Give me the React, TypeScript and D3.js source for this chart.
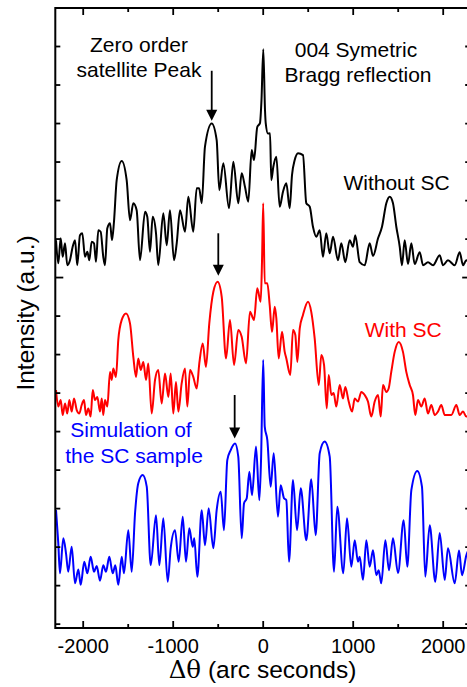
import React from 'react';
import * as d3 from 'd3';

// ---------- data (x: arc seconds, y: intensity in arbitrary offset units) ----------
const X_MAJOR_TICKS = [-2000, -1000, 0, 1000, 2000];
const X_MINOR_TICKS = [-1500, -500, 500, 1500];
const X_TICK_LABELS = ['-2000', '-1000', '0', '1000', '2000'];
const Y_TICKS = d3.range(0, 17);
const Y_MAJOR_TICK = 9;

const blackTrace: [number, number][] = [
  [-2302, 9.97], [-2277, 9.37], [-2250, 10.02], [-2228, 9.54], [-2202, 9.89], [-2177, 9.32], [-2147, 9.45], [-2117, 9.8], [-2091, 9.97], [-2066, 9.32],
  [-2036, 10.1], [-2010, 10.15], [-1980, 9.54], [-1954, 9.67], [-1932, 9.45], [-1906, 9.93], [-1880, 9.89], [-1858, 9.41], [-1832, 10.23], [-1806, 10.19],
  [-1777, 9.54], [-1758, 9.32], [-1732, 10.28], [-1702, 10.41], [-1680, 9.97], [-1658, 10.45], [-1628, 11.53], [-1572, 12.03], [-1517, 11.53], [-1480, 10.49],
  [-1443, 10.93], [-1406, 10.75], [-1369, 9.45], [-1313, 10.71], [-1288, 10.58], [-1258, 9.67], [-1228, 10.58], [-1191, 10.15], [-1166, 9.32], [-1110, 10.67],
  [-1072, 9.84], [-1036, 10.75], [-991, 9.45], [-961, 9.89], [-924, 10.75], [-869, 10.19], [-832, 11.1], [-777, 10.19], [-739, 11.32], [-712, 11.32],
  [-683, 10.93], [-647, 12.4], [-572, 13.0], [-517, 12.57], [-488, 11.27], [-443, 11.97], [-380, 10.8], [-332, 12.01], [-277, 10.93], [-239, 11.71],
  [-202, 11.35], [-166, 10.97], [-128, 12.31], [-102, 12.05], [-66, 12.91], [-36, 13.01], [-19, 13.61], [1, 14.93], [20, 13.35], [28, 13.01],
  [53, 12.74], [76, 12.75], [90, 11.53], [112, 11.87], [146, 12.14], [183, 10.84], [220, 11.23], [257, 11.45], [294, 10.8], [320, 11.66],
  [350, 12.05], [387, 12.23], [442, 12.18], [479, 10.93], [517, 10.84], [553, 10.32], [590, 10.06], [628, 10.23], [664, 9.54], [701, 10.15],
  [739, 9.63], [776, 10.06], [831, 9.45], [868, 9.89], [912, 9.4], [961, 9.97], [998, 9.8], [1023, 10.1], [1072, 9.4], [1128, 9.32],
  [1183, 9.89], [1220, 9.56], [1276, 10.02], [1320, 10.32], [1368, 10.93], [1406, 11.1], [1442, 10.93], [1479, 10.32], [1517, 9.8], [1542, 9.32],
  [1572, 9.97], [1609, 9.35], [1646, 9.89], [1683, 9.35], [1739, 9.66], [1776, 9.32], [1831, 9.4], [1887, 9.32], [1961, 9.58], [1998, 9.32],
  [2053, 9.45], [2128, 9.32], [2183, 9.66], [2220, 9.32], [2257, 9.45], [2300, 9.32],
];

const redTrace: [number, number][] = [
  [-2302, 6.08], [-2277, 5.65], [-2250, 5.82], [-2228, 5.43], [-2202, 5.73], [-2177, 5.47], [-2154, 5.82], [-2128, 5.52], [-2102, 5.86], [-2072, 5.56],
  [-2043, 5.47], [-2017, 5.69], [-1991, 5.82], [-1969, 5.43], [-1943, 5.6], [-1917, 5.39], [-1894, 6.08], [-1869, 5.82], [-1843, 5.9], [-1813, 5.52],
  [-1794, 5.86], [-1777, 5.43], [-1758, 5.82], [-1732, 5.65], [-1702, 6.55], [-1683, 6.34], [-1666, 6.64], [-1636, 6.42], [-1610, 7.38], [-1572, 7.9],
  [-1524, 8.07], [-1480, 7.81], [-1443, 6.94], [-1413, 6.42], [-1388, 6.9], [-1361, 6.6], [-1332, 6.81], [-1302, 6.34], [-1277, 6.77], [-1239, 5.47],
  [-1202, 6.34], [-1166, 6.6], [-1128, 5.73], [-1091, 6.51], [-1054, 5.9], [-1028, 6.51], [-999, 5.47], [-969, 6.29], [-943, 5.52], [-906, 6.25],
  [-869, 6.64], [-843, 5.65], [-813, 6.6], [-777, 6.42], [-739, 6.12], [-710, 6.77], [-672, 7.29], [-636, 6.68], [-599, 7.81], [-554, 8.63],
  [-506, 8.89], [-461, 8.5], [-413, 6.9], [-369, 7.9], [-324, 6.73], [-277, 7.64], [-239, 7.46], [-191, 6.77], [-147, 8.11], [-102, 7.9],
  [-66, 8.72], [-28, 8.37], [-13, 9.45], [0, 10.93], [17, 8.85], [46, 8.85], [72, 8.29], [98, 7.59], [128, 8.24], [146, 7.94],
  [172, 6.9], [209, 7.59], [239, 7.07], [257, 6.9], [301, 6.47], [331, 7.64], [357, 7.51], [379, 6.81], [406, 7.68], [442, 8.03],
  [498, 8.37], [534, 8.11], [572, 7.42], [617, 6.21], [646, 6.99], [676, 6.73], [706, 5.6], [728, 6.47], [757, 5.95], [783, 6.0],
  [812, 5.65], [850, 6.21], [887, 5.86], [912, 6.16], [950, 5.78], [987, 5.52], [1017, 5.86], [1053, 5.78], [1090, 6.03], [1128, 5.95],
  [1164, 5.78], [1201, 5.39], [1239, 5.78], [1276, 5.95], [1306, 5.39], [1331, 6.21], [1368, 6.03], [1394, 6.12], [1423, 6.55], [1461, 7.07],
  [1506, 7.33], [1553, 7.07], [1590, 6.55], [1628, 6.21], [1664, 5.95], [1690, 5.43], [1720, 5.82], [1757, 5.65], [1794, 5.86], [1831, 5.47],
  [1868, 5.69], [1906, 5.43], [1942, 5.52], [1979, 5.69], [2017, 5.43], [2090, 5.43], [2146, 5.69], [2183, 5.43], [2220, 5.52], [2257, 5.39],
  [2300, 5.39],
];

const blueTrace: [number, number][] = [
  [-2302, 2.96], [-2277, 2.11], [-2258, 1.32], [-2221, 2.23], [-2191, 1.84], [-2166, 1.36], [-2128, 2.01], [-2091, 1.06], [-2054, 1.42], [-2028, 1.02],
  [-1988, 1.62], [-1954, 1.32], [-1917, 1.75], [-1880, 1.36], [-1850, 1.51], [-1813, 1.13], [-1777, 1.53], [-1747, 1.36], [-1710, 1.75], [-1672, 1.32],
  [-1643, 1.53], [-1610, 1.02], [-1572, 1.75], [-1547, 1.32], [-1499, 2.44], [-1461, 1.36], [-1424, 2.88], [-1388, 3.66], [-1339, 3.87], [-1294, 3.57],
  [-1250, 1.53], [-1191, 2.83], [-1154, 1.53], [-1110, 2.75], [-1061, 1.1], [-1028, 1.97], [-980, 2.44], [-939, 1.62], [-894, 2.79], [-858, 1.62],
  [-821, 2.49], [-783, 2.01], [-766, 2.23], [-732, 1.23], [-683, 2.96], [-647, 2.05], [-606, 3.01], [-554, 1.97], [-517, 2.96], [-472, 3.44],
  [-436, 2.44], [-399, 4.26], [-361, 4.52], [-313, 4.69], [-277, 4.35], [-239, 2.23], [-213, 3.14], [-183, 3.27], [-154, 3.96], [-124, 3.35],
  [-80, 4.61], [-43, 3.22], [-24, 4.26], [0, 6.86], [17, 5.13], [46, 4.78], [83, 3.57], [117, 4.44], [164, 2.79], [194, 3.61],
  [231, 3.27], [257, 3.22], [287, 1.62], [331, 3.74], [376, 2.44], [417, 3.53], [479, 2.18], [534, 3.76], [583, 2.31], [628, 4.44],
  [683, 4.74], [739, 4.35], [787, 1.36], [823, 3.05], [890, 1.32], [931, 2.75], [979, 1.49], [1017, 2.18], [1053, 1.62], [1072, 1.75],
  [1109, 1.15], [1146, 2.18], [1183, 1.49], [1220, 1.92], [1257, 1.27], [1283, 1.4], [1312, 1.06], [1357, 2.18], [1398, 1.4], [1442, 2.23],
  [1498, 1.33], [1561, 2.7], [1601, 1.49], [1646, 3.48], [1712, 3.98], [1764, 3.57], [1801, 1.23], [1850, 2.57], [1912, 1.1], [1961, 2.37],
  [2017, 1.15], [2053, 1.97], [2128, 1.06], [2176, 1.91], [2209, 1.27], [2257, 1.79], [2300, 2.0],
];

// arrows: [x, yTop, yTip]
const arrows: [number, number, number][] = [
  [-572, 14.37, 13.07],
  [-499, 10.15, 9.05],
  [-317, 5.95, 4.82],
];

// ---------- layout ----------
const W = 467;
const H = 687;
const L = 55.3;
const R = 470.2;
const T = 8;
const B = 628;
const FONT = '"Liberation Sans", Arial, Helvetica, sans-serif';

export default function App() {
  const x = d3.scaleLinear().domain([-2310, 2300]).range([L, R]);
  const y = d3.scaleLinear().domain([-0.1, 16]).range([B, T]);
  const line = d3
    .line<[number, number]>()
    .x((d) => x(d[0]))
    .y((d) => y(d[1]))
    .curve(d3.curveMonotoneX);

  const series = [
    { data: blackTrace, color: '#000000' },
    { data: redTrace, color: '#ff0000' },
    { data: blueTrace, color: '#0000ff' },
  ];

  return (
    <svg
      width={W}
      height={H}
      style={{ position: 'absolute', left: 0, top: 0, background: '#fff' }}
      fontFamily={FONT}
    >
      <defs>
        <clipPath id="plot">
          <rect x={L} y={T} width={R - L} height={B - T} />
        </clipPath>
      </defs>
      <rect x={0} y={0} width={W} height={H} fill="#fff" />

      <g clipPath="url(#plot)">
        {series.map((s, i) => (
          <path
            key={i}
            d={line(s.data) || ''}
            fill="none"
            stroke={s.color}
            strokeWidth={2}
            strokeLinejoin="round"
          />
        ))}
      </g>

      {/* arrows */}
      {arrows.map(([ax, y0, y1], i) => {
        const px = x(ax);
        const tip = y(y1);
        const head = 11;
        return (
          <g key={i}>
            <line x1={px} x2={px} y1={y(y0)} y2={tip - head + 1} stroke="#000" strokeWidth={1.8} />
            <polygon points={`${px - 5.5},${tip - head} ${px + 5.5},${tip - head} ${px},${tip}`} fill="#000" />
          </g>
        );
      })}

      {/* frame */}
      <rect x={L} y={T} width={R - L} height={B - T} fill="none" stroke="#000" strokeWidth={2} />

      {/* x ticks */}
      {X_MAJOR_TICKS.map((v) => (
        <g key={'M' + v}>
          <line x1={x(v)} x2={x(v)} y1={B} y2={B - 7} stroke="#000" strokeWidth={1.8} />
          <line x1={x(v)} x2={x(v)} y1={T} y2={T + 7} stroke="#000" strokeWidth={1.8} />
        </g>
      ))}
      {X_MINOR_TICKS.map((v) => (
        <g key={'m' + v}>
          <line x1={x(v)} x2={x(v)} y1={B} y2={B - 4} stroke="#000" strokeWidth={1.8} />
          <line x1={x(v)} x2={x(v)} y1={T} y2={T + 4} stroke="#000" strokeWidth={1.8} />
        </g>
      ))}
      {X_MAJOR_TICKS.map((v, i) => (
        <text key={'l' + v} x={x(v)} y={653} textAnchor="middle" fontSize={20} fill="#000">
          {X_TICK_LABELS[i]}
        </text>
      ))}

      {/* y ticks */}
      {Y_TICKS.map((v) => {
        const len = v === Y_MAJOR_TICK ? 8 : 5;
        return (
          <g key={'y' + v}>
            <line x1={L} x2={L + len} y1={y(v)} y2={y(v)} stroke="#000" strokeWidth={1.8} />
            <line x1={R} x2={R - len} y1={y(v)} y2={y(v)} stroke="#000" strokeWidth={1.8} />
          </g>
        );
      })}

      {/* axis titles */}
      <text x={262.5} y={678} textAnchor="middle" fontSize={24.5} fill="#000">
        <tspan fontFamily='"DejaVu Serif", "Liberation Serif", serif'>Δθ</tspan> (arc seconds)
      </text>
      <text
        transform="translate(33.5,313) rotate(-90)"
        textAnchor="middle"
        fontSize={24.5}
        fill="#000"
      >
        Intensity (a.u.)
      </text>

      {/* annotations */}
      <g fontSize={21} textAnchor="middle">
        <text x={139} y={52} fill="#000">Zero order</text>
        <text x={139} y={77} fill="#000">satellite Peak</text>
        <text x={356} y={57.3} fill="#000">004 Symetric</text>
        <text x={358} y={81.7} fill="#000">Bragg reflection</text>
        <text x={396.5} y={189.5} fill="#000">Without SC</text>
        <text x={403.3} y={336.7} fill="#ff0000">With SC</text>
        <text x={131} y={437.3} fill="#0000ff">Simulation of</text>
        <text x={134} y={463} fill="#0000ff">the SC sample</text>
      </g>
    </svg>
  );
}
